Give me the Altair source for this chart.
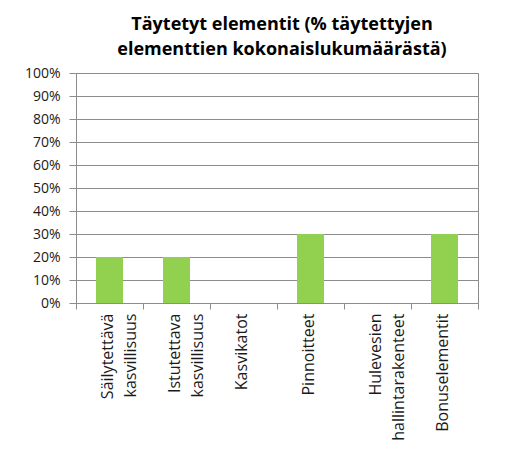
import altair as alt
import pandas as pd

NB = "\u00a0"
categories = [
    "Säilytettävä|kasvillisuus",
    "Istutettava|kasvillisuus",
    "Kasvikatot",
    "Pinnoitteet",
    "Hulevesien" + NB * 7 + "|hallintarakenteet",
    "Bonuselementit",
]
values = [0.20, 0.20, 0.0, 0.30, 0.0, 0.30]
y_ticks = [0.0, 0.1, 0.2, 0.3, 0.4, 0.5, 0.6, 0.7, 0.8, 0.9, 1.0]
title_lines = ["Täytetyt elementit (% täytettyjen", "elementtien kokonaislukumäärästä)"]

df = pd.DataFrame({"category": categories, "value": values})

GRID = "#8c8c8c"
FONT = "Open Sans"

chart = (
    alt.Chart(df)
    .mark_bar(size=27, color="#92D050")
    .encode(
        x=alt.X(
            "category:N",
            sort=categories,
            scale=alt.Scale(paddingInner=0, paddingOuter=0),
            axis=alt.Axis(
                title=None,
                labelAngle=270,
                labelAlign="right",
                labelBaseline="middle",
                labelExpr="split(datum.label, '|')",
                labelFont=FONT,
                labelFontSize=16,
                labelLineHeight=23,
                labelColor="#1a1a1a",
                labelPadding=4,
                labelOffset=-2,
                labelLimit=0,
                labelOverlap=False,
                tickBand="extent",
                tickSize=6,
                tickColor=GRID,
                domainColor=GRID,
                grid=False,
            ),
        ),
        y=alt.Y(
            "value:Q",
            scale=alt.Scale(domain=[0, 1]),
            axis=alt.Axis(
                title=None,
                format=".0%",
                values=y_ticks,
                grid=True,
                gridColor=GRID,
                gridOpacity=1,
                tickSize=7,
                tickColor=GRID,
                domainColor=GRID,
                labelFont=FONT,
                labelFontSize=14,
                labelColor="#1a1a1a",
                labelPadding=9,
            ),
        ),
    )
    .properties(
        width=402,
        height=230,
        title=alt.TitleParams(
            text=title_lines,
            font=FONT,
            fontSize=18,
            fontWeight="bold",
            color="#000000",
            anchor="middle",
            lineHeight=25,
            offset=7,
            dx=5,
        ),
        autosize=alt.AutoSizeParams(type="none"),
        padding={"left": 68, "top": 65, "right": 10, "bottom": 140},
    )
    .configure_view(stroke=GRID)
)

chart.save("out.html", embed_options={"renderer": "svg", "actions": False})
